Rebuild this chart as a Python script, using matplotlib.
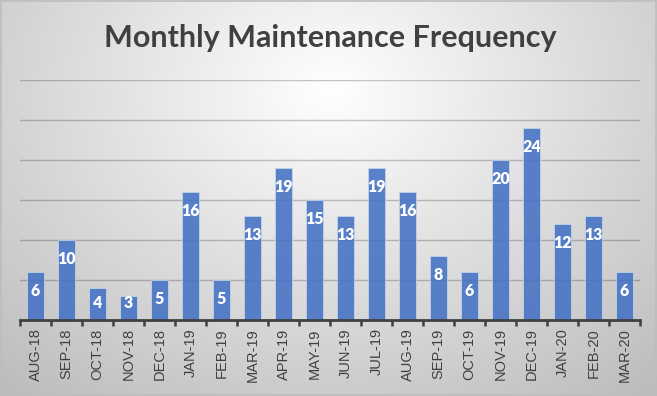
import numpy as np
import matplotlib.pyplot as plt

# Data
months = ['AUG-18', 'SEP-18', 'OCT-18', 'NOV-18', 'DEC-18', 'JAN-19', 'FEB-19',
          'MAR-19', 'APR-19', 'MAY-19', 'JUN-19', 'JUL-19', 'AUG-19', 'SEP-19',
          'OCT-19', 'NOV-19', 'DEC-19', 'JAN-20', 'FEB-20', 'MAR-20']
counts = [6, 10, 4, 3, 5, 16, 5, 13, 19, 15, 13, 19, 16, 8, 6, 20, 24, 12, 13, 6]

fig = plt.figure(figsize=(6.57, 3.96), dpi=100)

# Radial gray gradient background (Excel style)
bg = fig.add_axes([0, 0, 1, 1], zorder=-10)
yy, xx = np.mgrid[0:396, 0:657]
r = np.sqrt(((xx - 330) / 420.0) ** 2 + ((yy - 90) / 330.0) ** 2)
shade = 1.0 - 0.22 * np.clip(r, 0, 1.3) / 1.0
bg.imshow(np.dstack([shade, shade, shade]).clip(0, 1), aspect='auto', extent=[0, 1, 0, 1])
bg.set_xlim(0, 1)
bg.set_ylim(0, 1)
bg.axis('off')
bg.add_patch(plt.Rectangle((0.001, 0.002), 0.997, 0.995, fill=False,
                           edgecolor='#bdbdbd', linewidth=1.2))

ax = fig.add_axes([20 / 657, 1 - 320 / 396, 620 / 657, 240 / 396])
ax.patch.set_alpha(0)
x = np.arange(len(months))
ax.bar(x, counts, width=0.56, color='#4472C4', alpha=0.88,
       edgecolor='#c9d6ee', linewidth=0.6, zorder=2)

ax.set_ylim(0, 30)
ax.set_xlim(-0.5, len(months) - 0.5)
ax.set_yticks(np.arange(5, 31, 5))
ax.yaxis.grid(True, color='black', alpha=0.22, linewidth=1)
ax.set_axisbelow(True)
ax.tick_params(axis='y', left=False, labelleft=False)

# category ticks between bars
ax.set_xticks(x)
ax.set_xticklabels(months, rotation=90, fontsize=10.5, color='#404040',
                   family='Liberation Sans')
ax.set_xticks(np.arange(-0.5, len(months)), minor=True)
ax.tick_params(axis='x', which='major', length=0, pad=6)
ax.tick_params(axis='x', which='minor', length=4, width=1.8, color='#404040')

for side in ['top', 'right', 'left']:
    ax.spines[side].set_visible(False)
ax.spines['bottom'].set_color('#404040')
ax.spines['bottom'].set_linewidth(2)

# data labels inside the bar end
for xi, v in zip(x, counts):
    ypos = max(v - 2.35, 2.1)
    ax.text(xi, ypos, str(v), ha='center', va='center', color='white',
            fontsize=11.5, fontweight='heavy', family='Lato', zorder=3)

fig.text(0.503, 0.905, 'Monthly Maintenance Frequency', ha='center', va='center',
         fontsize=22, fontweight='bold', color='#404040', family='Lato')

fig.savefig('out.png', dpi=100)
